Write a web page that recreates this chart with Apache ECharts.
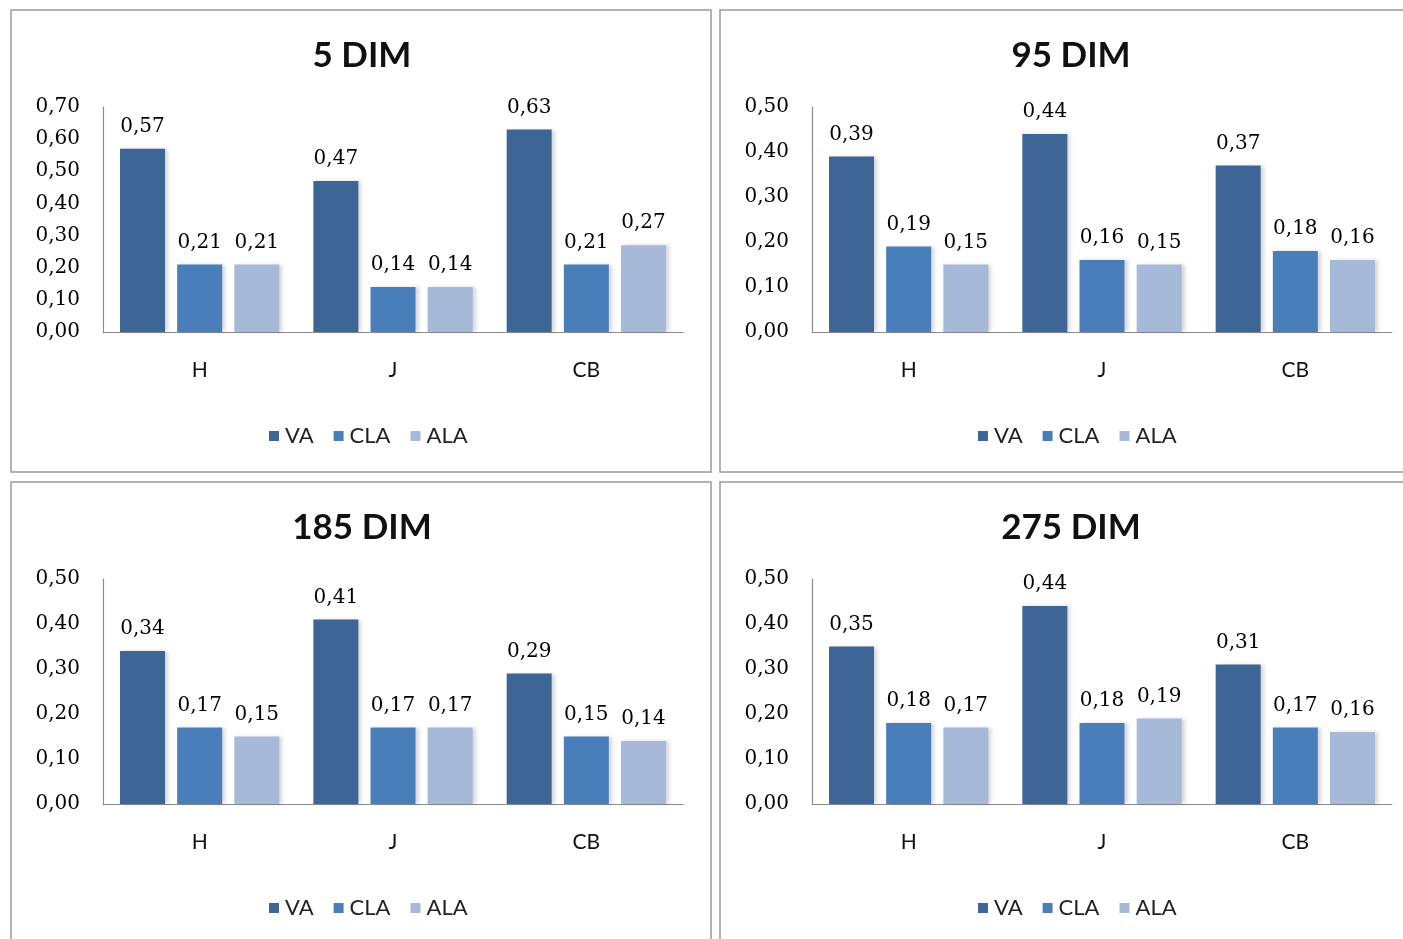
<!DOCTYPE html>
<html>
<head>
<meta charset="utf-8">
<script src="https://cdn.jsdelivr.net/npm/echarts@6/dist/echarts.min.js"></script>
<style>
  html, body { margin: 0; padding: 0; background: #ffffff; }
  #chart { width: 1403px; height: 939px; }
</style>
</head>
<body>
<div id="chart"></div>
<script>
// Categories and series names shared by all four panels
const categories = ['H', 'J', 'CB'];
const seriesNames = ['VA', 'CLA', 'ALA'];
const panelTitles = ['5 DIM', '95 DIM', '185 DIM', '275 DIM'];
const axisMax = [0.7, 0.5, 0.5, 0.5];

// Values per panel, one array per series (order: H, J, CB)
const dim5VA = [0.57, 0.47, 0.63];
const dim5CLA = [0.21, 0.14, 0.21];
const dim5ALA = [0.21, 0.14, 0.27];

const dim95VA = [0.39, 0.44, 0.37];
const dim95CLA = [0.19, 0.16, 0.18];
const dim95ALA = [0.15, 0.15, 0.16];

const dim185VA = [0.34, 0.41, 0.29];
const dim185CLA = [0.17, 0.17, 0.15];
const dim185ALA = [0.15, 0.17, 0.14];

const dim275VA = [0.35, 0.44, 0.31];
const dim275CLA = [0.18, 0.18, 0.17];
const dim275ALA = [0.17, 0.19, 0.16];

const panelData = [
  [dim5VA, dim5CLA, dim5ALA],
  [dim95VA, dim95CLA, dim95ALA],
  [dim185VA, dim185CLA, dim185ALA],
  [dim275VA, dim275CLA, dim275ALA]
];

const colors = ['#3D6596', '#4A7EBB', '#A7B9D9'];
const serifFont = '"DejaVu Serif", serif';
const sansFont = 'Lato, "Open Sans", sans-serif';

// Panel frames: top-left corner of each boxed chart
const frames = [
  { x: 11, y: 10 },
  { x: 720, y: 10 },
  { x: 11, y: 482 },
  { x: 720, y: 482 }
];
const frameW = 700, frameH = 462;

const fmt = v => Number(v).toFixed(2).replace('.', ',');

const option = {
  backgroundColor: '#ffffff',
  animation: false,
  color: colors,
  title: [],
  legend: [],
  grid: [],
  xAxis: [],
  yAxis: [],
  series: [],
  graphic: []
};

frames.forEach((f, i) => {
  option.graphic.push({
    type: 'rect',
    shape: { x: f.x, y: f.y, width: frameW, height: frameH },
    style: { fill: 'none', stroke: '#9a9a9a', lineWidth: 1.5 },
    silent: true
  });

  option.title.push({
    text: panelTitles[i],
    left: f.x + 346,
    top: f.y + 23,
    textAlign: 'center',
    textStyle: { fontFamily: sansFont, fontWeight: 'bold', fontSize: 35, color: '#111' }
  });

  option.legend.push({
    data: seriesNames,
    left: f.x + 253,
    top: f.y + 410,
    itemWidth: 10,
    itemHeight: 10,
    itemGap: 20,
    icon: 'rect',
    textStyle: { fontFamily: sansFont, fontSize: 22, color: '#222', padding: [0, 0, 0, 1] }
  });

  option.grid.push({
    left: f.x + 92,
    top: f.y + 97,
    width: 580,
    height: 225,
    containLabel: false
  });

  option.xAxis.push({
    type: 'category',
    gridIndex: i,
    data: categories,
    axisLine: { lineStyle: { color: '#8c8c8c', width: 1.2 } },
    axisTick: { show: false },
    axisLabel: { fontFamily: sansFont, fontSize: 21, color: '#111', margin: 28 }
  });

  option.yAxis.push({
    type: 'value',
    gridIndex: i,
    min: 0,
    max: axisMax[i],
    interval: 0.1,
    splitLine: { show: false },
    axisLine: { show: true, lineStyle: { color: '#8c8c8c', width: 1.2 } },
    axisTick: { show: false },
    axisLabel: { fontFamily: serifFont, fontSize: 20, color: '#000', margin: 23, formatter: fmt }
  });

  seriesNames.forEach((name, s) => {
    option.series.push({
      type: 'bar',
      name: name,
      xAxisIndex: i,
      yAxisIndex: i,
      data: panelData[i][s],
      barWidth: 45,
      barGap: '27%',
      itemStyle: {
        color: colors[s],
        shadowColor: 'rgba(0,0,0,0.16)',
        shadowBlur: 4,
        shadowOffsetX: 3
      },
      label: {
        show: true,
        position: 'top',
        distance: 12,
        fontFamily: serifFont,
        fontSize: 20,
        color: '#000',
        formatter: p => fmt(p.value)
      }
    });
  });
});

const chart = echarts.init(document.getElementById('chart'), null, { renderer: 'canvas' });
chart.setOption(option);
</script>
</body>
</html>
